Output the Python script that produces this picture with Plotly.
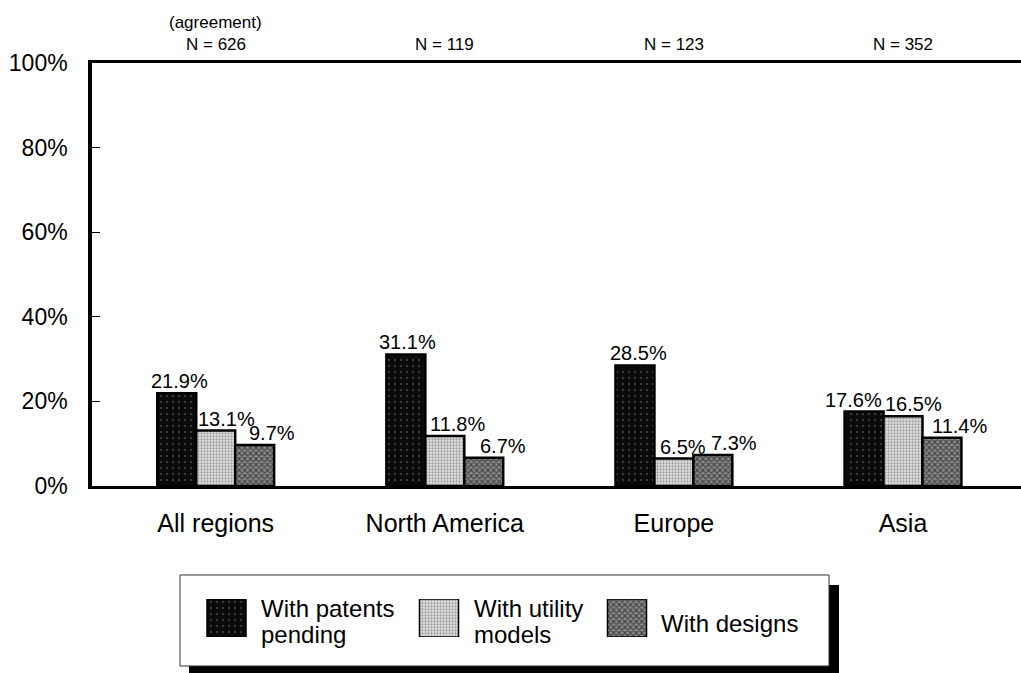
import plotly.graph_objects as go

# Survey shares by region
regions = ["All regions", "North America", "Europe", "Asia"]
sample_sizes = ["N = 626", "N = 119", "N = 123", "N = 352"]
patents_pending = [21.9, 31.1, 28.5, 17.6]
utility_models = [13.1, 11.8, 6.5, 16.5]
designs = [9.7, 6.7, 7.3, 11.4]
y_ticks = [0, 20, 40, 60, 80, 100]
series_lines = [["With patents", "pending"], ["With utility", "models"], ["With designs"]]

FONT = "Liberation Sans, Arial, sans-serif"
W, H = 1021, 673
L, T = 92, 63
PLOT_W, PLOT_H = W - L, H - T

# horizontal nudges (px) for the value labels, per series and region
label_shift = [[3, 2, 4, -11], [11, 13, 9, 10], [17, 19, 21, 18]]
bar_offset = [-0.17, 0.0, 0.17]


def px_x(px):
    return (px - L) / PLOT_W


def px_y(py):
    return (H - py) / PLOT_H


styles = [
    dict(shape=".", fgcolor="#6a6a6a", bgcolor="#0a0a0a", size=6, solidity=0.12),
    dict(shape=".", fgcolor="#5a5a5a", bgcolor="#e4e4e4", size=3, solidity=0.45),
    dict(shape="x", fgcolor="#000000", bgcolor="#8a8a8a", size=4, solidity=0.5),
]

fig = go.Figure()
all_series = [patents_pending, utility_models, designs]
for vals, st in zip(all_series, styles):
    fig.add_trace(go.Bar(
        x=regions, y=vals,
        marker=dict(color=st["bgcolor"], pattern=st, line=dict(color="black", width=2.5)),
        showlegend=False, xaxis="x", yaxis="y",
    ))

# value labels above each bar
for s, vals in enumerate(all_series):
    for i, v in enumerate(vals):
        fig.add_annotation(xref="x", yref="y", x=i + bar_offset[s], y=v,
                           xanchor="center", yanchor="bottom",
                           xshift=label_shift[s][i], yshift=-1,
                           text=f"{v:.1f}%", showarrow=False,
                           font=dict(family=FONT, size=20, color="black"))

# Legend swatches drawn on a helper axis inside the legend box
swatch_centers = [226.5, 439, 627]
for cx, st in zip(swatch_centers, styles):
    fig.add_trace(go.Bar(
        x=[cx], y=[1], width=[39],
        marker=dict(color=st["bgcolor"], pattern=st, line=dict(color="black", width=1.5)),
        showlegend=False, hoverinfo="skip", xaxis="x2", yaxis="y2",
    ))

fig.update_layout(
    width=W, height=H, autosize=False,
    margin=dict(l=L, r=0, t=T, b=0, pad=0),
    paper_bgcolor="white", plot_bgcolor="rgba(0,0,0,0)",
    barmode="group", bargap=0.49, bargroupgap=0,
    font=dict(family=FONT, color="black"),
    xaxis=dict(
        domain=[0, 1], range=[-0.54, 3.515], anchor="y", automargin=False,
        showline=True, linecolor="black", linewidth=3, mirror=True,
        ticks="", tickfont=dict(size=25, family=FONT), ticklabelstandoff=13,
        showgrid=False, zeroline=False,
    ),
    yaxis=dict(
        domain=[px_y(486), 1], range=[0, 100], anchor="x", automargin=False,
        tickvals=y_ticks, ticktext=[f"{v}%" for v in y_ticks],
        showline=True, linecolor="black", linewidth=3.5,
        ticks="inside", ticklen=8, tickwidth=1, tickcolor="black",
        tickfont=dict(size=23, family=FONT), ticklabelstandoff=16,
        showgrid=False, zeroline=False,
    ),
    xaxis2=dict(domain=[px_x(178), px_x(829)], range=[178, 829], anchor="y2",
                visible=False, fixedrange=True, automargin=False),
    yaxis2=dict(domain=[px_y(637), px_y(599)], range=[0, 1], anchor="x2",
                visible=False, fixedrange=True, automargin=False),
)

# Legend box with drop shadow
fig.add_shape(type="rect", xref="paper", yref="paper", layer="below",
              x0=px_x(189), x1=px_x(839), y0=px_y(676), y1=px_y(585),
              fillcolor="black", line=dict(width=0))
fig.add_shape(type="rect", xref="paper", yref="paper", layer="below",
              x0=px_x(180), x1=px_x(829), y0=px_y(666), y1=px_y(575),
              fillcolor="white", line=dict(color="#333", width=1))

text_left = [259, 472, 659]
for xl, lines in zip(text_left, series_lines):
    centers = [608, 634] if len(lines) == 2 else [623]
    for cy, line in zip(centers, lines):
        fig.add_annotation(xref="paper", yref="paper", x=px_x(xl), y=px_y(cy),
                           xanchor="left", yanchor="middle", align="left",
                           text=line, showarrow=False,
                           font=dict(family=FONT, size=24, color="black"))

# Sample sizes above each region
for reg, n in zip(regions, sample_sizes):
    fig.add_annotation(xref="x", yref="paper", x=reg, y=1, yanchor="bottom",
                       yshift=7, text=n, showarrow=False,
                       font=dict(family=FONT, size=17, color="black"))
fig.add_annotation(xref="x", yref="paper", x=regions[0], y=1, yanchor="bottom",
                   yshift=29, text="(agreement)", showarrow=False,
                   font=dict(family=FONT, size=17, color="black"))

fig.write_html("out.html")
